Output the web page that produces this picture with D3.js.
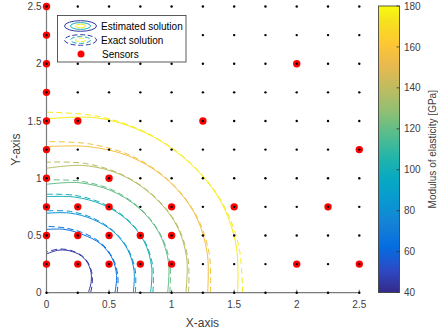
<!DOCTYPE html>
<html>
<head>
<meta charset="utf-8">
<script src="https://cdn.jsdelivr.net/npm/d3@7"></script>
<style>
  html, body { margin: 0; padding: 0; background: #fff; }
  svg { display: block; font-family: "Liberation Sans", Arial, sans-serif; }
</style>
</head>
<body>
<svg id="chart" width="438" height="334"></svg>
<script>
// nodes of the measurement grid (step 0.25)
const gridX = [0, 0.25, 0.5, 0.75, 1, 1.25, 1.5, 1.75, 2, 2.25, 2.5];
const gridY = [0, 0.25, 0.5, 0.75, 1, 1.25, 1.5, 1.75, 2, 2.25, 2.5];

// sensor positions
const sensorX = [0, 0, 0, 0, 0, 0, 0, 0, 0, 0,
                 0.25, 1.25, 2, 2.5, 0.5,
                 0.25, 0.5, 1, 1.5, 2.25,
                 0.25, 0.5, 0.75, 1,
                 0.25, 0.5, 0.75, 1, 2, 2.5];
const sensorY = [2.5, 2.25, 2, 1.75, 1.5, 1.25, 1, 0.75, 0.5, 0.25,
                 1.5, 1.5, 2, 1.25, 1,
                 0.75, 0.75, 0.75, 0.75, 0.75,
                 0.5, 0.5, 0.5, 0.5,
                 0.25, 0.25, 0.25, 0.25, 0.25, 0.25];

// contour levels [GPa] and radius of each contour at given angles (deg)
const levels = [45, 64, 82, 101, 120, 138, 157, 176];
const angles = [0, 15, 30, 45, 60, 75, 90];
const estRadii = [
  [0.334, 0.370, 0.405, 0.425, 0.415, 0.385, 0.338],
  [0.547, 0.580, 0.605, 0.607, 0.585, 0.572, 0.553],
  [0.693, 0.725, 0.750, 0.755, 0.740, 0.720, 0.694],
  [0.832, 0.870, 0.900, 0.905, 0.890, 0.865, 0.839],
  [0.968, 1.010, 1.040, 1.045, 1.030, 0.995, 0.947],
  [1.114, 1.160, 1.195, 1.200, 1.190, 1.150, 1.087],
  [1.288, 1.330, 1.370, 1.380, 1.365, 1.320, 1.276],
  [1.527, 1.570, 1.605, 1.610, 1.605, 1.580, 1.518]
];
const exactRadii = [
  [0.353, 0.380, 0.410, 0.430, 0.420, 0.395, 0.355],
  [0.565, 0.590, 0.610, 0.615, 0.600, 0.585, 0.580],
  [0.710, 0.735, 0.755, 0.760, 0.750, 0.735, 0.715],
  [0.850, 0.880, 0.905, 0.910, 0.900, 0.880, 0.860],
  [0.985, 1.020, 1.045, 1.050, 1.040, 1.010, 0.985],
  [1.135, 1.170, 1.200, 1.205, 1.195, 1.170, 1.140],
  [1.310, 1.345, 1.375, 1.385, 1.375, 1.345, 1.320],
  [1.567, 1.590, 1.610, 1.615, 1.610, 1.595, 1.577]
];

const xTicks = [0, 0.5, 1, 1.5, 2, 2.5];
const yTicks = [0, 0.5, 1, 1.5, 2, 2.5];
const cbTicks = [40, 60, 80, 100, 120, 140, 160, 180];
const cbDomain = [40, 180];

// parula colormap, sampled from the 64 entry table
const parulaIdx = [0, 5, 10, 15, 20, 25, 30, 35, 40, 45, 50, 55, 60, 63];
const parulaRGB = [
  [0.2081, 0.1663, 0.5292], [0.1707, 0.2919, 0.7792], [0.0165, 0.4266, 0.8786],
  [0.0779, 0.5040, 0.8384], [0.0343, 0.5966, 0.8199], [0.0267, 0.6642, 0.7607],
  [0.1453, 0.7098, 0.6646], [0.3482, 0.7424, 0.5473], [0.5709, 0.7485, 0.4494],
  [0.7525, 0.7384, 0.3768], [0.9139, 0.7258, 0.3063], [0.9955, 0.7861, 0.1967],
  [0.9589, 0.8949, 0.1132], [0.9763, 0.9831, 0.0538]
];

const dims = { left: 46.5, right: 359.3, top: 6.5, bottom: 292.7 };

const parula = d3.scaleLinear()
  .domain(parulaIdx.map(i => i / 63))
  .range(parulaRGB.map(c => d3.rgb(c[0] * 255, c[1] * 255, c[2] * 255).toString()))
  .clamp(true);
const colorOf = v => parula((v - cbDomain[0]) / (cbDomain[1] - cbDomain[0]));

const x = d3.scaleLinear().domain([0, 2.5]).range([dims.left, dims.right]);
const y = d3.scaleLinear().domain([0, 2.5]).range([dims.bottom, dims.top]);

const svg = d3.select("#chart");
const textCol = "#404040";

// contours
const line = d3.line()
  .x(d => x(d[0]))
  .y(d => y(d[1]))
  .curve(d3.curveCatmullRom);

const toPts = radii => angles.map((a, j) => {
  const t = a * Math.PI / 180;
  return [radii[j] * Math.cos(t), radii[j] * Math.sin(t)];
});

const cg = svg.append("g");
cg.selectAll("path.est")
  .data(levels)
  .join("path")
  .attr("class", "est")
  .attr("d", (d, i) => line(toPts(estRadii[i])))
  .attr("fill", "none")
  .attr("stroke", d => colorOf(d))
  .attr("stroke-width", 1);

cg.selectAll("path.exact")
  .data(levels)
  .join("path")
  .attr("class", "exact")
  .attr("d", (d, i) => line(toPts(exactRadii[i])))
  .attr("fill", "none")
  .attr("stroke", d => colorOf(d))
  .attr("stroke-width", 1)
  .attr("stroke-dasharray", "6,3.5");

// axes (box off, only left and bottom)
const axCol = "#7a7a7a";
svg.append("line")
  .attr("x1", dims.left).attr("x2", dims.left)
  .attr("y1", dims.top).attr("y2", dims.bottom)
  .attr("stroke", axCol).attr("stroke-width", 1.2);
svg.append("line")
  .attr("x1", dims.left).attr("x2", dims.right)
  .attr("y1", dims.bottom).attr("y2", dims.bottom)
  .attr("stroke", axCol).attr("stroke-width", 1.2);

svg.append("g").selectAll("line")
  .data(xTicks).join("line")
  .attr("x1", d => x(d)).attr("x2", d => x(d))
  .attr("y1", dims.bottom).attr("y2", dims.bottom - 3)
  .attr("stroke", axCol);
svg.append("g").selectAll("line")
  .data(yTicks).join("line")
  .attr("x1", dims.left).attr("x2", dims.left + 3)
  .attr("y1", d => y(d)).attr("y2", d => y(d))
  .attr("stroke", axCol);

svg.append("g").selectAll("text")
  .data(xTicks).join("text")
  .attr("x", d => x(d))
  .attr("y", 308)
  .attr("text-anchor", "middle")
  .attr("font-size", 10)
  .attr("fill", textCol)
  .text(d => d3.format("~g")(d));

svg.append("g").selectAll("text")
  .data(yTicks).join("text")
  .attr("x", 41.5)
  .attr("y", d => y(d) + 3.6)
  .attr("text-anchor", "end")
  .attr("font-size", 10)
  .attr("fill", textCol)
  .text(d => d3.format("~g")(d));

svg.append("text")
  .attr("x", (dims.left + dims.right) / 2 - 0.5)
  .attr("y", 326.5)
  .attr("text-anchor", "middle")
  .attr("font-size", 12)
  .attr("fill", textCol)
  .text("X-axis");

svg.append("text")
  .attr("transform", `translate(20,${(dims.top + dims.bottom) / 2}) rotate(-90)`)
  .attr("text-anchor", "middle")
  .attr("font-size", 12)
  .attr("fill", textCol)
  .text("Y-axis");

// sensors, then grid dots on top
const sensors = sensorX.map((sx, i) => [sx, sensorY[i]]);
svg.append("g").selectAll("circle")
  .data(sensors).join("circle")
  .attr("cx", d => x(d[0]))
  .attr("cy", d => y(d[1]))
  .attr("r", 3.7)
  .attr("fill", "#ff0000");

const nodes = d3.cross(gridX, gridY);
svg.append("g").selectAll("circle")
  .data(nodes).join("circle")
  .attr("cx", d => x(d[0]))
  .attr("cy", d => y(d[1]))
  .attr("r", 1.2)
  .attr("fill", "#000");

// legend
const lg = svg.append("g");
lg.append("rect")
  .attr("x", 57.5).attr("y", 15.5)
  .attr("width", 128.5).attr("height", 46.5)
  .attr("fill", "#fff")
  .attr("stroke", "#333").attr("stroke-width", 0.8);

const iconLevels = [levels[0], levels[3], levels[7]];
const iconRx = [16, 10, 5];
const iconRy = [5.3, 3.4, 1.8];
[[26, null], [40, "5,2.5"]].forEach(([cy, dash]) => {
  lg.append("g").selectAll("ellipse")
    .data(iconLevels).join("ellipse")
    .attr("cx", 80.5).attr("cy", cy)
    .attr("rx", (d, i) => iconRx[i]).attr("ry", (d, i) => iconRy[i])
    .attr("fill", "none")
    .attr("stroke", d => colorOf(d))
    .attr("stroke-width", 1)
    .attr("stroke-dasharray", dash);
});
lg.append("circle")
  .attr("cx", 81).attr("cy", 54).attr("r", 3.5)
  .attr("fill", "#ff0000");

const lgText = ["Estimated solution", "Exact solution", "Sensors"];
lg.selectAll("text")
  .data(lgText).join("text")
  .attr("x", (d, i) => i === 2 ? 102 : 101)
  .attr("y", (d, i) => 26 + i * 14 + 3.5)
  .attr("font-size", 10)
  .attr("fill", "#000")
  .text(d => d);

// colorbar
const cb = { x: 378.5, w: 21, top: 6, bottom: 292.5 };
const cy = d3.scaleLinear().domain(cbDomain).range([cb.bottom, cb.top]);
const grad = svg.append("defs").append("linearGradient")
  .attr("id", "parulaGrad")
  .attr("x1", 0).attr("y1", 1).attr("x2", 0).attr("y2", 0);
grad.selectAll("stop")
  .data(d3.range(0, 64))
  .join("stop")
  .attr("offset", d => d / 63)
  .attr("stop-color", d => parula(d / 63));

svg.append("rect")
  .attr("x", cb.x).attr("y", cb.top)
  .attr("width", cb.w).attr("height", cb.bottom - cb.top)
  .attr("fill", "url(#parulaGrad)")
  .attr("stroke", "#333").attr("stroke-width", 0.8);

svg.append("g").selectAll("line")
  .data(cbTicks).join("line")
  .attr("x1", cb.x + cb.w).attr("x2", cb.x + cb.w - 3)
  .attr("y1", d => cy(d)).attr("y2", d => cy(d))
  .attr("stroke", "#333").attr("stroke-width", 0.8);

svg.append("g").selectAll("text")
  .data(cbTicks).join("text")
  .attr("x", 404)
  .attr("y", d => cy(d) + 3.6)
  .attr("font-size", 10)
  .attr("fill", textCol)
  .text(d => d);

svg.append("text")
  .attr("transform", `translate(435.5,${(cb.top + cb.bottom) / 2}) rotate(-90)`)
  .attr("text-anchor", "middle")
  .attr("font-size", 10)
  .attr("fill", textCol)
  .text("Modulus of elasticity [GPa]");
</script>
</body>
</html>
